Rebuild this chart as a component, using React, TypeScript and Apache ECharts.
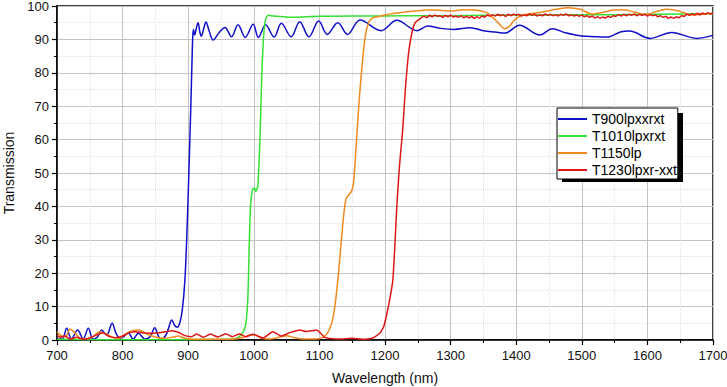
import React, { useEffect, useRef } from "react";
import * as echarts from "echarts";

const seriesNames = ["T900lpxxrxt", "T1010lpxrxt", "T1150lp", "T1230lpxr-xxt"];
const seriesColors = ["#1010c8", "#33e033", "#f08a1c", "#e01414"];

const blue: number[][] = [
  [700, 0.3], [708, 0.3], [714.7, 3.5], [722, 0.3], [731.5, 3.0], [740, 0.3], [747.7, 3.5], [755, 0.2],
  [762, 1.0], [768, 3.0], [775.7, 1.5], [784, 5.0], [790, 2.0], [796, 0.5], [802, 1.0], [808.7, 2.2],
  [816, 0.3], [824, 2.0], [834, 0.3], [842, 1.0], [849, 3.7], [855, 1.0], [860, 0.3], [866, 1.5],
  [870, 3.5], [875, 6.0], [879, 4.5], [883, 3.8], [887, 5], [891, 9], [895, 18], [898, 32], [901, 50],
  [904, 70], [906, 85], [907, 91], [908, 93], [910, 91.3], [912, 93], [915, 95], [918, 92], [920, 91],
  [924, 93.5], [927, 95.2], [932, 92.5], [938, 89.8], [947, 92], [956, 93.6], [966, 90.8], [976, 94.4],
  [987, 90.6], [999, 94.5], [1007, 90.6], [1018, 94.4], [1031, 90.7], [1042, 94.8], [1057, 90.8],
  [1070, 95.3], [1084, 90.8], [1099, 95.5], [1112, 91.5], [1128, 95], [1143, 91.5], [1162, 95.8],
  [1194, 92.6], [1218, 95.7], [1249, 92.6], [1265, 94], [1285, 93.3], [1305, 93.0], [1330, 93.5],
  [1350, 92.6], [1368, 92.2], [1383, 91.9], [1405, 94.2], [1436, 91.3], [1455, 93.2], [1475, 92],
  [1500, 91.0], [1520, 90.8], [1538, 90.7], [1560, 92.3], [1573, 92.5], [1604, 90.3], [1637, 92.1],
  [1675, 90.3], [1700, 91.2],
];

const green: number[][] = [
  [700, 0.2], [750, 0.1], [800, 0.1], [850, 0.1], [900, 0.1], [950, 0.2], [970, 0.4], [978, 1.0],
  [984, 2.5], [988, 5], [991, 13], [993, 28], [995, 40], [998, 45], [1001, 45.5], [1003, 44.5],
  [1006, 46], [1009, 58], [1012, 78], [1015, 91], [1018, 96], [1022, 97.2], [1030, 97.0], [1045, 96.8],
  [1060, 96.6], [1080, 96.8], [1100, 96.9], [1150, 97.0], [1200, 97.0], [1250, 97.1], [1300, 97.1],
  [1350, 97.2], [1400, 97.3], [1450, 97.3], [1500, 97.4], [1550, 97.4], [1600, 97.5], [1650, 97.6],
  [1700, 97.7],
];

const orange: number[][] = [
  [700, 2.5], [707, 1.2], [713, 1.0], [720, 3.3], [727, 2.2], [735, 0.5], [745, 0.3], [755, 1.0],
  [765, 2.5], [775, 1.8], [785, 0.8], [795, 0.5], [805, 1.8], [815, 2.8], [825, 3.0], [835, 2.0],
  [845, 1.2], [860, 0.5], [875, 0.8], [885, 1.2], [895, 0.5], [910, 0.2], [940, 0.2], [970, 0.3],
  [985, 0.8], [995, 1.6], [1003, 1.5], [1012, 0.5], [1025, 0.3], [1040, 0.9], [1050, 1.3], [1060, 0.8],
  [1075, 0.3], [1095, 0.3], [1105, 0.8], [1112, 2.0], [1118, 4.5], [1122, 8], [1126, 14], [1130, 22],
  [1134, 31], [1138, 39], [1141, 42.5], [1145, 43.5], [1149, 44.5], [1152, 47], [1156, 58], [1160, 70],
  [1165, 82], [1170, 91], [1175, 95], [1180, 96.3], [1189, 96.8], [1200, 97.3], [1215, 97.8],
  [1230, 98.2], [1245, 98.5], [1265, 98.8], [1285, 98.7], [1300, 98.5], [1315, 98.8], [1330, 98.9],
  [1345, 98.6], [1355, 98.0], [1363, 96.8], [1371, 95.3], [1378, 93.8], [1383, 93.2], [1390, 94.0],
  [1396, 95.5], [1402, 96.5], [1410, 97.3], [1420, 97.7], [1440, 98.2], [1460, 99.0], [1480, 99.5],
  [1498, 99.0], [1515, 97.6], [1530, 98.0], [1548, 98.8], [1562, 98.9], [1580, 98.2], [1598, 97.5],
  [1615, 98.4], [1630, 99.0], [1648, 98.5], [1668, 97.3], [1685, 97.5], [1700, 97.9],
];

const red: number[][] = [
  [700, 1.5], [705, 0.8], [712, 1.3], [720, 0.3], [730, 0.8], [740, 0.2], [750, 0.6], [760, 1.5],
  [770, 2.2], [780, 1.0], [790, 0.7], [800, 1.2], [810, 2.2], [820, 2.5], [830, 2.2], [845, 2.0],
  [860, 2.3], [875, 2.8], [885, 2.3], [895, 1.3], [905, 1.0], [913, 1.8], [923, 0.8], [934, 1.8],
  [945, 0.9], [957, 1.9], [967, 1.0], [978, 1.8], [988, 1.0], [999, 1.7], [1014, 0.6], [1029, 2.5],
  [1042, 1.2], [1055, 2.2], [1070, 3.0], [1080, 2.5], [1090, 2.8], [1096, 3.0], [1102, 2.0],
  [1108, 0.8], [1120, 0.4], [1131, 0.3], [1150, 0.5], [1165, 0.2], [1180, 0.5], [1192, 2],
  [1198, 4], [1203, 8], [1208, 13], [1212, 18], [1215, 28], [1218, 40], [1222, 52], [1227, 63],
  [1231, 75], [1236, 86], [1241, 92], [1246, 95.0],
  [1252, 96.0], [1256, 96.6], [1260, 96.9], [1264, 96.5], [1268, 97.2], [1272, 96.8], [1276, 97.3],
  [1280, 96.9], [1284, 97.1], [1288, 96.6], [1292, 97.2], [1296, 96.8], [1300, 97.3], [1304, 96.7],
  [1308, 97.0], [1312, 96.6], [1316, 97.1], [1320, 96.5], [1324, 96.9], [1328, 96.4], [1332, 96.9],
  [1336, 96.3], [1340, 96.8], [1344, 96.4], [1348, 97.0], [1352, 96.7], [1356, 97.3], [1360, 96.9],
  [1364, 97.4], [1368, 97.0], [1372, 97.5], [1376, 97.1], [1380, 97.4], [1384, 96.9], [1388, 97.5],
  [1392, 97.1], [1396, 97.6], [1400, 97.2], [1404, 97.5], [1408, 97.0], [1412, 97.4], [1416, 97.1],
  [1420, 97.6], [1424, 97.2], [1428, 97.5], [1432, 97.0], [1436, 97.4], [1440, 97.1], [1444, 97.6],
  [1448, 97.2], [1452, 97.5], [1456, 97.1], [1460, 97.4], [1464, 97.0], [1468, 97.5], [1472, 97.2],
  [1476, 97.6], [1480, 97.1], [1484, 97.4], [1488, 97.0], [1492, 97.3], [1496, 96.9], [1500, 97.3],
  [1504, 96.8], [1508, 97.1], [1512, 96.6], [1516, 97.0], [1520, 96.4], [1524, 96.8], [1528, 96.3],
  [1532, 96.7], [1536, 96.4], [1540, 96.9], [1544, 96.6], [1548, 97.1], [1552, 96.9], [1556, 97.4],
  [1560, 97.0], [1564, 97.5], [1568, 97.1], [1572, 97.5], [1576, 97.2], [1580, 97.6], [1584, 97.1],
  [1588, 97.5], [1592, 97.2], [1596, 97.5], [1600, 97.0], [1604, 97.4], [1608, 97.1], [1612, 97.3],
  [1616, 96.8], [1620, 97.1], [1624, 96.6], [1628, 96.9], [1632, 96.3], [1636, 96.7], [1640, 96.3],
  [1644, 96.8], [1648, 96.5], [1652, 97.1], [1656, 96.9], [1660, 97.5], [1664, 97.2], [1668, 97.7],
  [1672, 97.3], [1676, 97.8], [1680, 97.4], [1684, 97.9], [1688, 97.5], [1692, 98.0], [1696, 97.6],
  [1700, 97.9],
];

const seriesData = [blue, green, orange, red];
const smoothness = [0.35, 0.25, 0.3, 0.15];

const FONT = "'Liberation Sans', Arial, sans-serif";

export default function App() {
  const ref = useRef<HTMLDivElement>(null);
  useEffect(() => {
    if (!ref.current) return;
    const chart = echarts.init(ref.current, undefined, { renderer: "svg" });
    const axisCommon = {
      axisLine: { show: true, lineStyle: { color: "#000", width: 1.5 } },
      axisTick: { show: true, inside: false, length: 5, lineStyle: { color: "#000", width: 1.2 } },
      minorTick: { show: true, splitNumber: 2, length: 3, lineStyle: { color: "#000", width: 1 } },
      splitLine: { show: true, lineStyle: { color: "#c4c4c4", width: 1 } },
      minorSplitLine: { show: true, lineStyle: { color: "#e2e2e2", width: 1, type: "dotted" } },
      nameTextStyle: { color: "#111", fontSize: 14, fontFamily: FONT },
    };
    const labelStyle = { color: "#111", fontSize: 13, fontFamily: FONT, formatter: (v: number) => String(v) };
    chart.setOption({
      animation: false,
      backgroundColor: "#fff",
      grid: {
        left: 57, right: 14, top: 6, bottom: 47, show: true, borderColor: "#000", borderWidth: 1.5,
        backgroundColor: "transparent", containLabel: false, outerBoundsMode: "none",
      },
      xAxis: {
        type: "value", min: 700, max: 1700, interval: 100,
        name: "Wavelength (nm)", nameLocation: "middle", nameGap: 31,
        ...axisCommon,
        axisLabel: { ...labelStyle, margin: 9 },
      },
      yAxis: {
        type: "value", min: 0, max: 100, interval: 10,
        name: "Transmission", nameLocation: "middle", nameGap: 41,
        ...axisCommon,
        axisLabel: { ...labelStyle, margin: 8 },
      },
      graphic: [
        { type: "rect", z: 1, shape: { x: 562, y: 113, width: 121, height: 69 }, style: { fill: "#000" } },
      ],
      legend: {
        orient: "vertical", left: 557, top: 108, z: 10,
        data: seriesNames.map((n) => ({ name: n, icon: "rect" })),
        itemWidth: 29, itemHeight: 2, itemGap: 1,
        padding: [3, 1, 1, 1],
        backgroundColor: "#fff", borderColor: "#000", borderWidth: 1, borderRadius: 0,
        textStyle: { fontSize: 14, fontFamily: FONT, color: "#000", lineHeight: 16 },
      },
      series: seriesData.map((d, i) => ({
        name: seriesNames[i],
        type: "line",
        data: d,
        symbol: "none",
        smooth: smoothness[i],
        lineStyle: { color: seriesColors[i], width: 1.5 },
        itemStyle: { color: seriesColors[i] },
      })),
    });
    return () => chart.dispose();
  }, []);
  return <div ref={ref} style={{ width: 727, height: 387, position: "absolute", left: 0, top: 0 }} />;
}
